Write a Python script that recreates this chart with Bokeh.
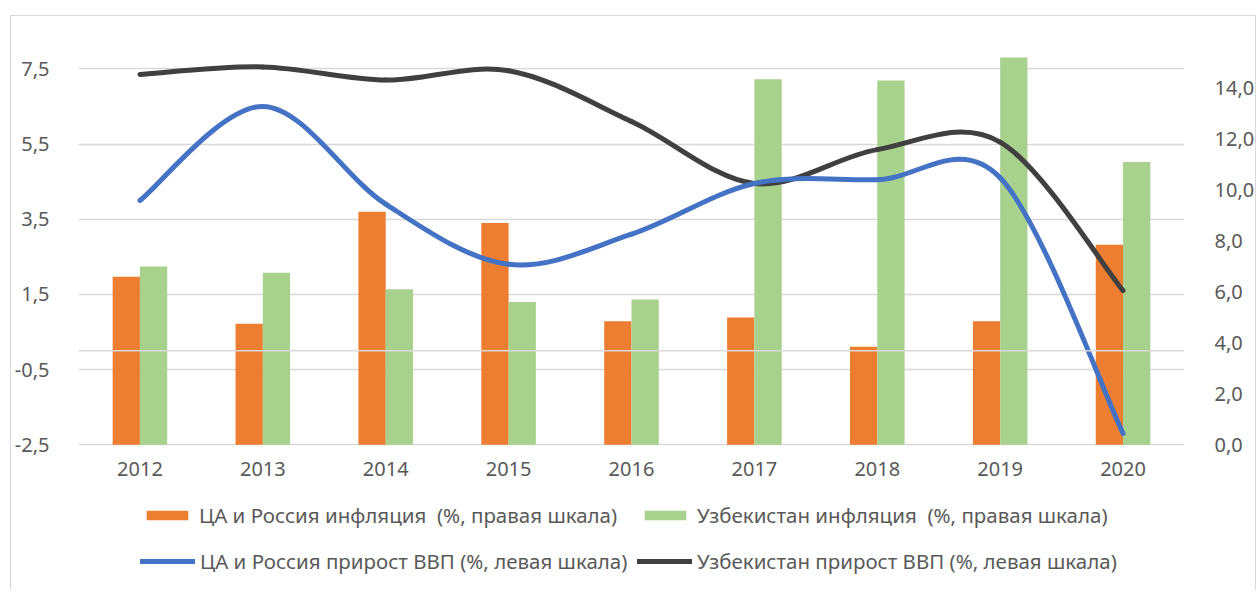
from bokeh.plotting import figure
from bokeh.models import (FactorRange, Range1d, LinearAxis, FixedTicker, CustomJSTickFormatter,
                          ColumnDataSource, Span, Legend, LegendItem)
from bokeh.transform import dodge
from bokeh.embed import file_html
from bokeh.resources import INLINE

# ---------------- data ----------------
years = ["2012", "2013", "2014", "2015", "2016", "2017", "2018", "2019", "2020"]
ca_inflation = [6.6, 4.75, 9.15, 8.7, 4.85, 5.0, 3.85, 4.85, 7.85]        # right axis
uz_inflation = [7.0, 6.75, 6.1, 5.6, 5.7, 14.35, 14.3, 15.2, 11.1]       # right axis
ca_gdp = [4.0, 6.5, 3.9, 2.3, 3.1, 4.45, 4.55, 4.6, -2.2]                # left axis
uz_gdp = [7.35, 7.55, 7.2, 7.45, 6.1, 4.45, 5.35, 5.55, 1.6]             # left axis
left_ticks = [-2.5, -0.5, 1.5, 3.5, 5.5, 7.5]
right_ticks = [0, 2, 4, 6, 8, 10, 12, 14]
labels = ["ЦА и Россия инфляция  (%, правая шкала)",
          "Узбекистан инфляция  (%, правая шкала)",
          "ЦА и Россия прирост ВВП (%, левая шкала)",
          "Узбекистан прирост ВВП (%, левая шкала)"]

ORANGE = "#ED7D31"
GREEN = "#A9D18E"
BLUE = "#4472C4"
DARK = "#404040"
TXT = "#595959"
GRID = "#D9D9D9"
FONT = "Noto Sans"

# ---------------- layout (pixels) ----------------
W, H = 1246, 575
B_LEFT, B_RIGHT, B_TOP = 64, 68, 15
BASE_PX = 428.3            # canvas y of the -2.5 / 0.0 baseline
LEFT_PPU = 37.6            # px per unit, left axis
RIGHT_PPU = 25.48          # px per unit, right axis
above = BASE_PX - B_TOP
below = H - BASE_PX
left_min = left_ticks[0]
y_left = Range1d(left_min - below / LEFT_PPU, left_min + above / LEFT_PPU)
y_right = Range1d(-below / RIGHT_PPU, above / RIGHT_PPU)

p = figure(width=W, height=H, x_range=FactorRange(*years, range_padding=0),
           y_range=y_left, output_backend="svg", toolbar_location=None,
           min_border_left=B_LEFT, min_border_right=B_RIGHT, min_border_top=B_TOP,
           min_border_bottom=0,
           styles={"border": "1px solid #D9D9D9", "border-bottom": "none",
                   "margin": "15px 0 0 10px"})
p.extra_y_ranges = {"right": y_right}
p.outline_line_color = None
p.background_fill_color = "white"
p.border_fill_color = "white"

# bars
src = ColumnDataSource(dict(year=years, ca=ca_inflation, uz=uz_inflation))
bw = 0.222
r_ca = p.vbar(x=dodge("year", -bw / 2, range=p.x_range), top="ca", bottom=0, width=bw, source=src,
              y_range_name="right", fill_color=ORANGE, line_color=None)
r_uz = p.vbar(x=dodge("year", bw / 2, range=p.x_range), top="uz", bottom=0, width=bw, source=src,
              y_range_name="right", fill_color=GREEN, line_color=None)

# zero line (category axis crossing)
p.add_layout(Span(location=0, dimension="width", line_color=GRID, line_width=1.5))


def smooth_segments(vals):
    n = len(vals)
    xs = [i + 0.5 for i in range(n)]
    d = dict(x0=[], y0=[], x1=[], y1=[], cx0=[], cy0=[], cx1=[], cy1=[])
    for i in range(n - 1):
        a = i - 1 if i > 0 else i
        b = i + 2 if i + 2 < n else i + 1
        d["x0"].append(xs[i]); d["y0"].append(vals[i])
        d["x1"].append(xs[i + 1]); d["y1"].append(vals[i + 1])
        d["cx0"].append(xs[i] + (xs[i + 1] - xs[a]) / 6)
        d["cy0"].append(vals[i] + (vals[i + 1] - vals[a]) / 6)
        d["cx1"].append(xs[i + 1] - (xs[b] - xs[i]) / 6)
        d["cy1"].append(vals[i + 1] - (vals[b] - vals[i]) / 6)
    return ColumnDataSource(d)


r_uzg = p.bezier(x0="x0", y0="y0", x1="x1", y1="y1", cx0="cx0", cy0="cy0", cx1="cx1", cy1="cy1",
                 source=smooth_segments(uz_gdp), line_color=DARK, line_width=5, line_cap="round")
r_cag = p.bezier(x0="x0", y0="y0", x1="x1", y1="y1", cx0="cx0", cy0="cy0", cx1="cx1", cy1="cy1",
                 source=smooth_segments(ca_gdp), line_color=BLUE, line_width=5, line_cap="round")

# axes
fmt = CustomJSTickFormatter(code="return tick.toFixed(1).replace('.', ',');")
yax = p.yaxis[0]
yax.ticker = FixedTicker(ticks=left_ticks)
yax.formatter = fmt
p.add_layout(LinearAxis(y_range_name="right", ticker=FixedTicker(ticks=right_ticks),
                        formatter=fmt), "right")
p.xaxis[0].fixed_location = left_min
for ax in p.yaxis + p.xaxis:
    ax.axis_line_color = None
    ax.major_tick_line_color = None
    ax.minor_tick_line_color = None
    ax.major_label_text_font = FONT
    ax.major_label_text_font_size = "20px"
    ax.major_label_text_color = TXT
p.yaxis[0].major_label_standoff = 23
p.yaxis[1].major_label_standoff = 24
p.xaxis.major_label_standoff = 11

p.xgrid.grid_line_color = None
p.ygrid.grid_line_color = GRID
p.ygrid.grid_line_width = 1.5
p.ygrid.ticker = FixedTicker(ticks=left_ticks)

common = dict(orientation="horizontal", spacing=0, padding=0, margin=0,
              border_line_color=None, background_fill_alpha=0,
              label_text_font=FONT, label_text_font_size="20.5px", label_text_color=TXT,
              glyph_height=12)
leg1 = Legend(items=[LegendItem(label=labels[0], renderers=[r_ca]),
                     LegendItem(label=labels[1], renderers=[r_uz])],
              location=(63, 62), glyph_width=52, label_standoff=6, label_width=440, **common)
leg2 = Legend(items=[LegendItem(label=labels[2], renderers=[r_cag]),
                     LegendItem(label=labels[3], renderers=[r_uzg])],
              location=(62, 16), glyph_width=55, label_standoff=5, label_width=437, **common)
p.add_layout(leg1)
p.add_layout(leg2)

open("out.html", "w").write(file_html(p, INLINE))
